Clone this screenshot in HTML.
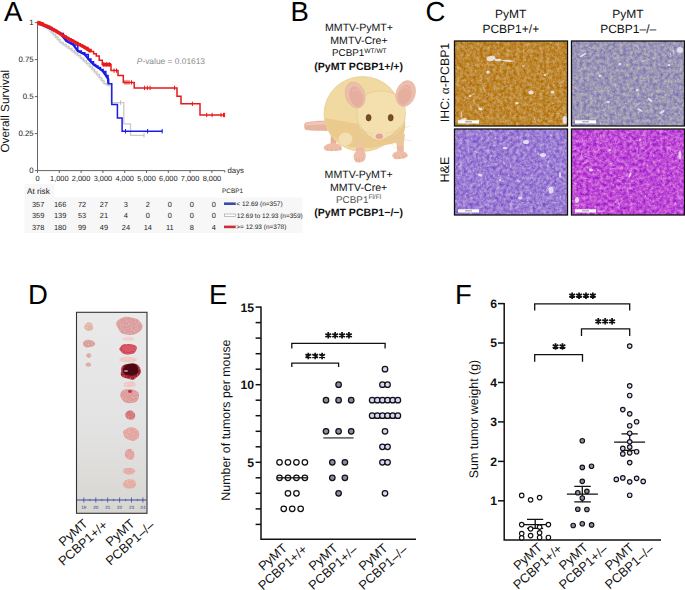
<!DOCTYPE html>
<html><head><meta charset="utf-8"><style>
html,body{margin:0;padding:0;background:#fff;}
body{width:685px;height:590px;overflow:hidden;font-family:"Liberation Sans",sans-serif;}
svg{display:block;text-rendering:geometricPrecision;}
</style></head><body>
<svg width="685" height="590" viewBox="0 0 685 590">
<text x="4" y="20.8" font-size="27.5" font-family="Liberation Sans">A</text>
<g stroke="#555" stroke-width="0.9" fill="none">
<path d="M37.5,22 V170.6 H224.8"/>
<path d="M34.8,170.6 H37.5"/>
<path d="M34.8,133.6 H37.5"/>
<path d="M34.8,96.6 H37.5"/>
<path d="M34.8,59.6 H37.5"/>
<path d="M34.8,22.6 H37.5"/>
<path d="M37.5,170.6 V173"/>
<path d="M59.3,170.6 V173"/>
<path d="M81.1,170.6 V173"/>
<path d="M102.9,170.6 V173"/>
<path d="M124.7,170.6 V173"/>
<path d="M146.5,170.6 V173"/>
<path d="M168.3,170.6 V173"/>
<path d="M190.1,170.6 V173"/>
<path d="M211.9,170.6 V173"/>
<path d="M224.8,170.6 V172.5"/>
</g>
<g font-size="7.8" font-family="Liberation Sans" fill="#222" text-anchor="end">
<text x="33.6" y="173.2">0</text>
<text x="33.6" y="136.2">0.25</text>
<text x="33.6" y="99.2">0.5</text>
<text x="33.6" y="62.2">0.75</text>
<text x="33.6" y="25.2">1</text>
</g>
<g font-size="7.4" font-family="Liberation Sans" fill="#222" text-anchor="middle">
<text x="37.5" y="181.2">0</text>
<text x="59.3" y="181.2">1,000</text>
<text x="81.1" y="181.2">2,000</text>
<text x="102.9" y="181.2">3,000</text>
<text x="124.7" y="181.2">4,000</text>
<text x="146.5" y="181.2">5,000</text>
<text x="168.3" y="181.2">6,000</text>
<text x="190.1" y="181.2">7,000</text>
<text x="211.9" y="181.2">8,000</text>
</g>
<text x="227.5" y="173.3" font-size="7.8" font-family="Liberation Sans" fill="#222">days</text>
<text transform="translate(8.9,111.3) rotate(-90)" text-anchor="middle" font-size="11.8" font-family="Liberation Sans" fill="#111">Overall Survival</text>
<text x="136.8" y="63.9" font-size="8.4" font-family="Liberation Sans" fill="#8a8a8a"><tspan font-style="italic">P</tspan>-value = 0.01613</text>
<path d="M37.5,22.6 48.9,29.1 60.3,42.3 69.0,48.4 77.8,55.4 86.6,63.3 90.0,66.6 97.0,74.5 104.0,83.3 108.4,85.5" fill="none" stroke="#e2e2e2" stroke-width="2.4" stroke-linejoin="round"/>
<path d="M37.50,22.60 39.78,22.60 39.78,23.90 42.06,23.90 42.06,25.20 44.34,25.20 44.34,26.50 46.62,26.50 46.62,27.80 48.90,27.80 48.90,29.10 51.18,29.10 51.18,31.74 53.46,31.74 53.46,34.38 55.74,34.38 55.74,37.02 58.02,37.02 58.02,39.66 60.30,39.66 60.30,42.30 63.20,42.30 63.20,44.33 66.10,44.33 66.10,46.37 69.00,46.37 69.00,48.40 71.93,48.40 71.93,50.73 74.87,50.73 74.87,53.07 77.80,53.07 77.80,55.40 80.73,55.40 80.73,58.03 83.67,58.03 83.67,60.67 86.60,60.67 86.60,63.30 90.00,63.30 90.00,66.60 92.33,66.60 92.33,69.23 94.67,69.23 94.67,71.87 97.00,71.87 97.00,74.50 99.33,74.50 99.33,77.43 101.67,77.43 101.67,80.37 104.00,80.37 104.00,83.30 106.20,83.30 106.20,84.40 108.40,84.40 108.40,85.50 111.20,85.50 111.20,102.60 123.80,102.60 123.80,123.80 130.50,123.80 130.50,135.40 144.20,135.40" fill="none" stroke="#cacaca" stroke-width="1.3"/>
<path d="M37.5,22.6 60.3,33.5 66.4,41.0 73.4,44.9 77.8,51.0 81.4,52.8 84.8,54.5 88.3,58.9 93.5,64.5 97.9,67.5 103.1,71.5 105.8,75.4 108.0,78.9 108.4,83.7" fill="none" stroke="#1c1ce8" stroke-width="2.2" stroke-linejoin="round"/>
<path d="M37.50,22.60 39.78,22.60 39.78,23.69 42.06,23.69 42.06,24.78 44.34,24.78 44.34,25.87 46.62,25.87 46.62,26.96 48.90,26.96 48.90,28.05 51.18,28.05 51.18,29.14 53.46,29.14 53.46,30.23 55.74,30.23 55.74,31.32 58.02,31.32 58.02,32.41 60.30,32.41 60.30,33.50 63.35,33.50 63.35,37.25 66.40,37.25 66.40,41.00 68.73,41.00 68.73,42.30 71.07,42.30 71.07,43.60 73.40,43.60 73.40,44.90 77.80,44.90 77.80,51.00 81.40,51.00 81.40,52.80 84.80,52.80 84.80,54.50 88.30,54.50 88.30,58.90 90.90,58.90 90.90,61.70 93.50,61.70 93.50,64.50 95.70,64.50 95.70,66.00 97.90,66.00 97.90,67.50 100.50,67.50 100.50,69.50 103.10,69.50 103.10,71.50 105.80,71.50 105.80,75.40 108.00,75.40 108.00,78.90 108.40,78.90 108.40,83.70 111.80,83.70 111.80,84.60 111.80,104.50 117.40,104.50 117.40,117.90 122.10,117.90 122.10,131.20 162.40,131.20" fill="none" stroke="#1c1ce8" stroke-width="1.5"/>
<path d="M37.5,22.6 49.8,27.4 63.8,36.1 73.4,41.4 84.8,47.5 91.0,51.5" fill="none" stroke="#ee1c1c" stroke-width="3.3" stroke-linejoin="round"/>
<path d="M102.3,64.6 H111" stroke="#e8191a" stroke-width="3.2"/>
<path d="M37.5,20.5 L44,22.5 L44,26.5 L37.5,25 Z" fill="#ee1c1c"/>
<path d="M37.50,22.60 39.96,22.60 39.96,23.56 42.42,23.56 42.42,24.52 44.88,24.52 44.88,25.48 47.34,25.48 47.34,26.44 49.80,26.44 49.80,27.40 52.13,27.40 52.13,28.85 54.47,28.85 54.47,30.30 56.80,30.30 56.80,31.75 59.13,31.75 59.13,33.20 61.47,33.20 61.47,34.65 63.80,34.65 63.80,36.10 66.20,36.10 66.20,37.42 68.60,37.42 68.60,38.75 71.00,38.75 71.00,40.08 73.40,40.08 73.40,41.40 75.68,41.40 75.68,42.62 77.96,42.62 77.96,43.84 80.24,43.84 80.24,45.06 82.52,45.06 82.52,46.28 84.80,46.28 84.80,47.50 87.90,47.50 87.90,49.50 91.00,49.50 91.00,51.50 93.65,51.50 93.65,53.75 96.30,53.75 96.30,56.00 99.20,56.00 99.20,60.30 102.30,60.30 102.30,64.50 111.00,64.50 111.00,70.60 118.00,70.60 118.00,75.40 123.30,75.40 123.30,82.40 134.20,82.40 134.20,87.90 177.00,87.90 177.00,96.30 181.00,96.30 181.00,103.80 200.00,103.80 200.00,115.00 225.00,115.00" fill="none" stroke="#e8191a" stroke-width="1.5"/>
<path d="M103.5,62.3 V66.7" stroke="#e8191a" stroke-width="1"/><path d="M105.0,62.3 V66.7" stroke="#e8191a" stroke-width="1"/><path d="M106.5,62.3 V66.7" stroke="#e8191a" stroke-width="1"/><path d="M108.0,62.3 V66.7" stroke="#e8191a" stroke-width="1"/><path d="M109.5,62.3 V66.7" stroke="#e8191a" stroke-width="1"/>
<path d="M114.0,68.4 V72.8" stroke="#e8191a" stroke-width="1"/><path d="M116.5,68.4 V72.8" stroke="#e8191a" stroke-width="1"/>
<path d="M125.0,80.2 V84.6" stroke="#e8191a" stroke-width="1"/><path d="M127.0,80.2 V84.6" stroke="#e8191a" stroke-width="1"/><path d="M129.0,80.2 V84.6" stroke="#e8191a" stroke-width="1"/><path d="M131.5,80.2 V84.6" stroke="#e8191a" stroke-width="1"/>
<path d="M144.6,85.7 V90.1" stroke="#e8191a" stroke-width="1"/><path d="M147.4,85.7 V90.1" stroke="#e8191a" stroke-width="1"/><path d="M150.1,85.7 V90.1" stroke="#e8191a" stroke-width="1"/><path d="M174.6,85.7 V90.1" stroke="#e8191a" stroke-width="1"/>
<path d="M192.4,101.6 V106.0" stroke="#e8191a" stroke-width="1"/>
<path d="M206.7,112.8 V117.2" stroke="#e8191a" stroke-width="1"/><path d="M212.1,112.8 V117.2" stroke="#e8191a" stroke-width="1"/><path d="M221.0,112.8 V117.2" stroke="#e8191a" stroke-width="1"/><path d="M223.5,112.8 V117.2" stroke="#e8191a" stroke-width="1"/><path d="M224.6,112.8 V117.2" stroke="#e8191a" stroke-width="1"/>
<path d="M125.5,129.0 V133.4" stroke="#1c1ce8" stroke-width="1"/><path d="M147.6,129.0 V133.4" stroke="#1c1ce8" stroke-width="1"/><path d="M162.2,129.0 V133.4" stroke="#1c1ce8" stroke-width="1"/>
<path d="M120.5,100.4 V104.8" stroke="#bbb" stroke-width="1"/>
<path d="M144.0,133.2 V137.6" stroke="#bbb" stroke-width="1"/>
<rect x="24.5" y="184" width="30" height="14" fill="#f7f7f7"/><rect x="24.5" y="197.5" width="278" height="35.5" fill="#f7f7f7"/>
<text x="27" y="194" font-size="8.2" font-family="Liberation Sans" fill="#222">At risk</text>
<text x="222" y="193" font-size="6.4" font-family="Liberation Sans" fill="#222">PCBP1</text>
<g font-size="7.4" font-family="Liberation Sans" fill="#222" text-anchor="middle">
<text x="38.1" y="206.7">357</text>
<text x="60.1" y="206.7">166</text>
<text x="82.0" y="206.7">72</text>
<text x="103.9" y="206.7">27</text>
<text x="125.9" y="206.7">3</text>
<text x="147.8" y="206.7">2</text>
<text x="169.8" y="206.7">0</text>
<text x="191.8" y="206.7">0</text>
<text x="213.7" y="206.7">0</text>
<text x="38.1" y="218.3">359</text>
<text x="60.1" y="218.3">139</text>
<text x="82.0" y="218.3">53</text>
<text x="103.9" y="218.3">21</text>
<text x="125.9" y="218.3">4</text>
<text x="147.8" y="218.3">0</text>
<text x="169.8" y="218.3">0</text>
<text x="191.8" y="218.3">0</text>
<text x="213.7" y="218.3">0</text>
<text x="38.1" y="229.9">378</text>
<text x="60.1" y="229.9">180</text>
<text x="82.0" y="229.9">99</text>
<text x="103.9" y="229.9">49</text>
<text x="125.9" y="229.9">24</text>
<text x="147.8" y="229.9">14</text>
<text x="169.8" y="229.9">11</text>
<text x="191.8" y="229.9">8</text>
<text x="213.7" y="229.9">4</text>
</g>
<rect x="224" y="202.4" width="11.7" height="2.6" fill="#3a4aa8"/>
<rect x="224.3" y="214" width="11.2" height="2.3" fill="#fff" stroke="#999" stroke-width="0.6"/>
<rect x="224" y="225.6" width="11.7" height="2.6" fill="#c8303a"/>
<g font-size="6.5" font-family="Liberation Sans" fill="#222">
<text x="236.3" y="206">&lt; 12.69 (n=357)</text>
<text x="236.8" y="217.6">12.69 to 12.93 (n=359)</text>
<text x="236.3" y="229.2">&gt;= 12.93 (n=378)</text>
</g>
<text x="290.5" y="20.8" font-size="27.5" font-family="Liberation Sans">B</text>
<g font-size="10.6" font-family="Liberation Sans" fill="#111" text-anchor="middle">
<text x="359" y="31.4">MMTV-PyMT+</text>
<text x="359" y="44">MMTV-Cre+</text>
<text x="359.3" y="56.2" font-size="9.9">PCBP1<tspan font-size="6.6" dy="-3.6">WT/WT</tspan></text>
<text x="358.6" y="69.8" font-weight="bold">(PyMT PCBP1+/+)</text>
<text x="358.6" y="178.3">MMTV-PyMT+</text>
<text x="358.6" y="191">MMTV-Cre+</text>
<text x="358.6" y="203" font-size="9.9" fill="#555">PCBP1<tspan font-size="6.6" dy="-3.6">Fl/Fl</tspan></text>
<text x="358.6" y="216.3" font-weight="bold">(PyMT PCBP1−/−)</text>
</g>

<g>
<path d="M305.5,122.5 C312,121 319,120.6 327,120.8 L327.5,131 C319,130.8 312,130.6 305.8,130 C303.8,129.4 303.6,123.2 305.5,122.5 Z" fill="#e8b4a2"/>
<path d="M306,123.4 C312,122.2 319,121.8 326,122 L326,124.6 C319,124.4 312,124.8 306,125.6 Z" fill="#f0c8b8"/>
<path d="M331,132 L330.5,144 L336,145 L337,133 Z" fill="#e8b09c"/>
<path d="M324,146.5 C326,143.5 332,142.5 337,143.6 C341,144.6 342.5,147.5 341.5,150 C338,151.3 332,151.3 327,150.8 C324,150 323,148 324,146.5 Z" fill="#eebda8"/>
<path d="M328,148 L327,151 M332,148.5 L331.5,151.2 M336,148.5 L336.2,151 M339.5,147.6 L340.5,150" stroke="#d89a88" stroke-width="0.5" fill="none"/>
<ellipse cx="362.5" cy="114" rx="38.5" ry="37.5" fill="#f1d9a2" stroke="#e3c48c" stroke-width="0.6"/>
<path d="M325,118 C326,132 336,142 350,147 L372,148 L400,142 C404,136 406,128 405,120 L380,128 Z" fill="#ebca8e"/>
<ellipse cx="345.5" cy="139" rx="7" ry="6.5" fill="#f3dfb0"/>
<path d="M355,140 C356,145 356,149 356,153 L364,153 C364,148 364.5,144 365,140 Z" fill="#ebc79a"/><path d="M356,148 L356,153 L364,153 L364.2,148 Z" fill="#eab8a4"/>
<path d="M395,136 C396,142 397,147 397.5,152 L403.5,152 C403.5,146 404,141 405,134 Z" fill="#ebc79a"/><path d="M397,146 L397.5,152 L403.5,152 L403.6,146 Z" fill="#eab8a4"/>
<path d="M353.6,156 C354,151.5 358,149.8 362,150.3 C365.5,151 366.2,154.5 365.4,158.5 C364,162 360,163 357,162.4 C354.5,161.6 353.4,159 353.6,156 Z" fill="#eebda8"/>
<path d="M356.5,158 L356.3,161.5 M359.5,158.5 L359.5,162.2 M362.5,158 L363,161.5" stroke="#d89a88" stroke-width="0.5" fill="none"/>
<path d="M392.3,155 C393.5,151.8 398,150.8 402,151.2 C406,151.8 408.3,154 407.6,156.6 C405,158.6 400,159.4 396,159.2 C393.4,158.6 392,157 392.3,155 Z" fill="#eebda8"/>
<path d="M396,155.5 L394.8,158.5 M399.5,156 L399.2,159 M403,156 L403.8,158.8" stroke="#d89a88" stroke-width="0.5" fill="none"/>
<path d="M357,114 C356,100 366,91 381,91 C396,91 406,100 405.5,114 C405.2,126 398,135 388,139 C383,141 376,141 371,139 C362,135 357.5,126 357,114 Z" fill="#f4dfae" stroke="#e2c48e" stroke-width="0.6"/>
<path d="M360,124 C364,132 371,139 379,140 C387,139 395,133 402,124 C398,133 390,140.5 379,141 C369,140.5 362,133 360,124 Z" fill="#e8c890"/>
<ellipse cx="355.2" cy="95" rx="9.6" ry="13.4" transform="rotate(-18,355.2,95)" fill="#ecbfac" stroke="#dcae96" stroke-width="0.5"/>
<ellipse cx="356.2" cy="96.5" rx="6.8" ry="10.5" transform="rotate(-18,356.2,96.5)" fill="#e6ae9e"/>
<path d="M352,92 C355,88 361,89 362,94" stroke="#eec2b2" stroke-width="0.8" fill="none"/>
<ellipse cx="405.7" cy="93.5" rx="9.5" ry="13.2" transform="rotate(18,405.7,93.5)" fill="#ecbfac" stroke="#dcae96" stroke-width="0.5"/>
<ellipse cx="404.8" cy="95" rx="6.6" ry="10.2" transform="rotate(18,404.8,95)" fill="#e6ae9e"/>
<path d="M401,90 C404,86 410,87 411,92" stroke="#eec2b2" stroke-width="0.8" fill="none"/>
<ellipse cx="368.6" cy="117.7" rx="2.5" ry="3.3" fill="#7a4c26" stroke="#4a2c14" stroke-width="0.5"/>
<ellipse cx="390.7" cy="117.7" rx="2.5" ry="3.3" fill="#7a4c26" stroke="#4a2c14" stroke-width="0.5"/>
<ellipse cx="379.3" cy="136.3" rx="3.4" ry="2.5" fill="#e8a0a0" stroke="#d08888" stroke-width="0.3"/>
<g stroke="#ddc49a" stroke-width="0.35" fill="none">
<path d="M373,134 L350,127 M373,136 L352,139 M386,134 L410,126 M386,136 L412,141 M385,138 L398,150"/>
</g>
</g>
<text x="425.4" y="21" font-size="27.5" font-family="Liberation Sans">C</text>
<g font-size="12" font-family="Liberation Sans" fill="#111" text-anchor="middle">
<text x="510.6" y="18">PyMT</text>
<text x="510.8" y="32.6">PCBP1+/+</text>
<text x="627.9" y="18">PyMT</text>
<text x="628.2" y="32.6">PCBP1–/–</text>
<text transform="translate(449.4,82.5) rotate(-90)" font-size="12.3">IHC: <tspan font-family="Liberation Serif" font-size="13.2">α</tspan>-PCBP1</text>
<text transform="translate(449.3,169.6) rotate(-90)" font-size="12.6">H&amp;E</text>
</g>
<filter id="f1" x="455" y="41.5" width="112" height="84" filterUnits="userSpaceOnUse" color-interpolation-filters="sRGB">
<feTurbulence type="fractalNoise" baseFrequency="0.3" numOctaves="3" seed="3"/>
<feColorMatrix type="matrix" values="0.195 0 0 0 0.6725 0.39 0 0 0 0.35500000000000004 0.7150000000000001 0 0 0 -0.15750000000000003 0 0 0 0 1"/>
</filter><rect x="455" y="41.5" width="112" height="84" fill="#888" filter="url(#f1)"/><filter id="f1g" x="455" y="41.5" width="112" height="84" filterUnits="userSpaceOnUse" color-interpolation-filters="sRGB">
<feTurbulence type="turbulence" baseFrequency="0.9" numOctaves="1" seed="4"/>
<feColorMatrix type="matrix" values="0 0 0 0 0.35 0 0 0 0 0.2 0 0 0 0 0.0 0.35 0 0 0 0"/>
</filter><rect x="455" y="41.5" width="112" height="84" fill="#888" filter="url(#f1g)"/><filter id="f1w" x="455" y="41.5" width="112" height="84" filterUnits="userSpaceOnUse" color-interpolation-filters="sRGB">
<feTurbulence type="fractalNoise" baseFrequency="0.4" numOctaves="2" seed="10"/>
<feColorMatrix type="matrix" values="0 0 0 0 0.85 0 0 0 0 0.82 0 0 0 0 0.8 2.6 0 0 0 -1.7"/>
</filter><rect x="455" y="41.5" width="112" height="84" fill="#888" filter="url(#f1w)"/><ellipse cx="491" cy="58.5" rx="4.5" ry="2.6" transform="rotate(-10,491,58.5)" fill="#eeeaf0" opacity="0.9"/><ellipse cx="498" cy="60" rx="3.5" ry="1.2" transform="rotate(0,498,60)" fill="#eeeaf0" opacity="0.9"/><ellipse cx="508" cy="60.8" rx="6" ry="0.9" transform="rotate(3,508,60.8)" fill="#eeeaf0" opacity="0.9"/><ellipse cx="488" cy="72" rx="1.8" ry="1.6" transform="rotate(0,488,72)" fill="#eeeaf0" opacity="0.9"/><ellipse cx="531" cy="92.4" rx="2.6" ry="2" transform="rotate(0,531,92.4)" fill="#eeeaf0" opacity="0.9"/><ellipse cx="552.5" cy="92" rx="2" ry="1.6" transform="rotate(0,552.5,92)" fill="#eeeaf0" opacity="0.9"/><ellipse cx="480.4" cy="109" rx="2.4" ry="1.3" transform="rotate(20,480.4,109)" fill="#eeeaf0" opacity="0.9"/><ellipse cx="517" cy="103" rx="1.8" ry="1.2" transform="rotate(0,517,103)" fill="#eeeaf0" opacity="0.9"/><ellipse cx="545" cy="75" rx="1.2" ry="1" transform="rotate(0,545,75)" fill="#eeeaf0" opacity="0.9"/><ellipse cx="463" cy="120" rx="4" ry="1.5" transform="rotate(-20,463,120)" fill="#eeeaf0" opacity="0.9"/><ellipse cx="565" cy="120" rx="2.5" ry="4" transform="rotate(0,565,120)" fill="#eeeaf0" opacity="0.9"/><ellipse cx="523" cy="66" rx="1" ry="0.8" transform="rotate(0,523,66)" fill="#eeeaf0" opacity="0.9"/><ellipse cx="470" cy="96" rx="1.2" ry="0.9" transform="rotate(0,470,96)" fill="#eeeaf0" opacity="0.9"/><path d="M483.2,86.9L485.2,91.6" stroke="#f0e6e8" stroke-width="1.0" opacity="0.55" stroke-linecap="round"/><path d="M464.9,45.5L462.1,47.1" stroke="#f0e6e8" stroke-width="0.8" opacity="0.55" stroke-linecap="round"/><path d="M563.5,81.2L559.7,83.3" stroke="#f0e6e8" stroke-width="1.0" opacity="0.55" stroke-linecap="round"/><path d="M474.0,94.0L469.7,95.9" stroke="#f0e6e8" stroke-width="1.1" opacity="0.55" stroke-linecap="round"/><path d="M529.2,49.5L525.6,52.9" stroke="#f0e6e8" stroke-width="0.8" opacity="0.55" stroke-linecap="round"/><path d="M461.3,112.0L461.8,117.6" stroke="#f0e6e8" stroke-width="1.2" opacity="0.55" stroke-linecap="round"/><path d="M533.7,116.3L535.6,122.0" stroke="#f0e6e8" stroke-width="0.9" opacity="0.55" stroke-linecap="round"/><path d="M557.2,113.1L559.7,113.9" stroke="#f0e6e8" stroke-width="0.8" opacity="0.55" stroke-linecap="round"/><rect x="454.5" y="41.0" width="113" height="85" fill="none" stroke="#111" stroke-width="1.3"/><rect x="458" y="120.3" width="21" height="3.2" fill="#fff"/><rect x="465" y="121.3" width="7" height="1.1" fill="#999"/><filter id="f2" x="572" y="41.5" width="112" height="84" filterUnits="userSpaceOnUse" color-interpolation-filters="sRGB">
<feTurbulence type="fractalNoise" baseFrequency="0.3" numOctaves="3" seed="5"/>
<feColorMatrix type="matrix" values="0.45999999999999996 0 0 0 0.39 0.414 0 0 0 0.393 0.0 0 0 0 0.72 0 0 0 0 1"/>
</filter><rect x="572" y="41.5" width="112" height="84" fill="#888" filter="url(#f2)"/><filter id="f2g" x="572" y="41.5" width="112" height="84" filterUnits="userSpaceOnUse" color-interpolation-filters="sRGB">
<feTurbulence type="turbulence" baseFrequency="0.9" numOctaves="1" seed="6"/>
<feColorMatrix type="matrix" values="0 0 0 0 0.3 0 0 0 0 0.25 0 0 0 0 0.5 0.3 0 0 0 0"/>
</filter><rect x="572" y="41.5" width="112" height="84" fill="#888" filter="url(#f2g)"/><filter id="f2w" x="572" y="41.5" width="112" height="84" filterUnits="userSpaceOnUse" color-interpolation-filters="sRGB">
<feTurbulence type="fractalNoise" baseFrequency="0.4" numOctaves="2" seed="12"/>
<feColorMatrix type="matrix" values="0 0 0 0 0.88 0 0 0 0 0.86 0 0 0 0 0.88 2.6 0 0 0 -1.7"/>
</filter><rect x="572" y="41.5" width="112" height="84" fill="#888" filter="url(#f2w)"/><ellipse cx="583" cy="55" rx="3.5" ry="1" transform="rotate(-30,583,55)" fill="#e6e8f4" opacity="0.9"/><ellipse cx="600" cy="76" rx="1.5" ry="1.2" transform="rotate(0,600,76)" fill="#e6e8f4" opacity="0.9"/><ellipse cx="620" cy="64" rx="1.5" ry="1.2" transform="rotate(0,620,64)" fill="#e6e8f4" opacity="0.9"/><ellipse cx="637" cy="90" rx="1.5" ry="1" transform="rotate(0,637,90)" fill="#e6e8f4" opacity="0.9"/><ellipse cx="650" cy="100" rx="3" ry="1" transform="rotate(40,650,100)" fill="#e6e8f4" opacity="0.9"/><ellipse cx="669" cy="65" rx="1.5" ry="1" transform="rotate(0,669,65)" fill="#e6e8f4" opacity="0.9"/><ellipse cx="680" cy="50" rx="3" ry="3" transform="rotate(0,680,50)" fill="#e6e8f4" opacity="0.9"/><ellipse cx="662" cy="112" rx="3" ry="1.2" transform="rotate(-30,662,112)" fill="#e6e8f4" opacity="0.9"/><ellipse cx="608" cy="102" rx="2" ry="1" transform="rotate(0,608,102)" fill="#e6e8f4" opacity="0.9"/><ellipse cx="640" cy="110" rx="3" ry="1" transform="rotate(30,640,110)" fill="#e6e8f4" opacity="0.9"/><path d="M641.0,102.4L635.7,106.4" stroke="#dde0f0" stroke-width="1.1" opacity="0.55" stroke-linecap="round"/><path d="M672.8,46.8L673.5,53.4" stroke="#dde0f0" stroke-width="1.1" opacity="0.55" stroke-linecap="round"/><path d="M670.5,53.3L670.8,56.5" stroke="#dde0f0" stroke-width="1.0" opacity="0.55" stroke-linecap="round"/><path d="M635.8,45.5L638.5,47.7" stroke="#dde0f0" stroke-width="1.2" opacity="0.55" stroke-linecap="round"/><path d="M656.2,56.9L654.0,58.6" stroke="#dde0f0" stroke-width="1.0" opacity="0.55" stroke-linecap="round"/><path d="M588.4,44.6L585.6,45.8" stroke="#dde0f0" stroke-width="0.8" opacity="0.55" stroke-linecap="round"/><path d="M679.1,112.5L683.0,117.9" stroke="#dde0f0" stroke-width="1.0" opacity="0.55" stroke-linecap="round"/><path d="M646.9,60.5L641.5,61.5" stroke="#dde0f0" stroke-width="1.3" opacity="0.55" stroke-linecap="round"/><path d="M669.7,67.8L670.9,70.4" stroke="#dde0f0" stroke-width="0.7" opacity="0.55" stroke-linecap="round"/><path d="M581.9,68.0L581.3,69.9" stroke="#dde0f0" stroke-width="1.1" opacity="0.55" stroke-linecap="round"/><rect x="571.5" y="41.0" width="113" height="85" fill="none" stroke="#111" stroke-width="1.3"/><rect x="575" y="120.3" width="21" height="3.2" fill="#fff"/><rect x="582" y="121.3" width="7" height="1.1" fill="#999"/><filter id="f3" x="455" y="129.5" width="112" height="85" filterUnits="userSpaceOnUse" color-interpolation-filters="sRGB">
<feTurbulence type="fractalNoise" baseFrequency="0.3" numOctaves="3" seed="9"/>
<feColorMatrix type="matrix" values="0.42 0 0 0 0.41000000000000003 0.5599999999999999 0 0 0 0.22000000000000003 0.13999999999999999 0 0 0 0.77 0 0 0 0 1"/>
</filter><rect x="455" y="129.5" width="112" height="85" fill="#888" filter="url(#f3)"/><filter id="f3g" x="455" y="129.5" width="112" height="85" filterUnits="userSpaceOnUse" color-interpolation-filters="sRGB">
<feTurbulence type="turbulence" baseFrequency="0.9" numOctaves="1" seed="10"/>
<feColorMatrix type="matrix" values="0 0 0 0 0.3 0 0 0 0 0.15 0 0 0 0 0.6 0.3 0 0 0 0"/>
</filter><rect x="455" y="129.5" width="112" height="85" fill="#888" filter="url(#f3g)"/><filter id="f3w" x="455" y="129.5" width="112" height="85" filterUnits="userSpaceOnUse" color-interpolation-filters="sRGB">
<feTurbulence type="fractalNoise" baseFrequency="0.4" numOctaves="2" seed="16"/>
<feColorMatrix type="matrix" values="0 0 0 0 0.95 0 0 0 0 0.9 0 0 0 0 0.98 2.6 0 0 0 -1.7"/>
</filter><rect x="455" y="129.5" width="112" height="85" fill="#888" filter="url(#f3w)"/><ellipse cx="526" cy="142" rx="3" ry="2" transform="rotate(0,526,142)" fill="#ece4f6" opacity="0.9"/><ellipse cx="520" cy="198" rx="2" ry="1.4" transform="rotate(0,520,198)" fill="#ece4f6" opacity="0.9"/><ellipse cx="551" cy="190" rx="2.5" ry="3.5" transform="rotate(0,551,190)" fill="#ece4f6" opacity="0.9"/><ellipse cx="500" cy="180" rx="1.2" ry="1" transform="rotate(0,500,180)" fill="#ece4f6" opacity="0.9"/><ellipse cx="480" cy="175" rx="2.5" ry="1.2" transform="rotate(20,480,175)" fill="#ece4f6" opacity="0.9"/><ellipse cx="543" cy="155" rx="3" ry="2" transform="rotate(0,543,155)" fill="#ece4f6" opacity="0.9"/><ellipse cx="505" cy="148" rx="2.5" ry="1" transform="rotate(0,505,148)" fill="#ece4f6" opacity="0.9"/><ellipse cx="560" cy="175" rx="1" ry="3" transform="rotate(0,560,175)" fill="#ece4f6" opacity="0.9"/><path d="M507.1,162.0L512.8,164.7" stroke="#e8d0f0" stroke-width="0.6" opacity="0.55" stroke-linecap="round"/><path d="M511.3,203.5L515.9,204.7" stroke="#e8d0f0" stroke-width="1.0" opacity="0.55" stroke-linecap="round"/><path d="M462.3,162.4L459.8,165.9" stroke="#e8d0f0" stroke-width="1.1" opacity="0.55" stroke-linecap="round"/><path d="M474.7,151.3L478.9,152.9" stroke="#e8d0f0" stroke-width="1.2" opacity="0.55" stroke-linecap="round"/><path d="M520.6,193.7L522.6,199.0" stroke="#e8d0f0" stroke-width="0.7" opacity="0.55" stroke-linecap="round"/><path d="M488.9,185.8L486.2,188.9" stroke="#e8d0f0" stroke-width="0.7" opacity="0.55" stroke-linecap="round"/><path d="M486.3,149.1L490.1,153.8" stroke="#e8d0f0" stroke-width="0.7" opacity="0.55" stroke-linecap="round"/><path d="M552.0,202.0L555.8,202.6" stroke="#e8d0f0" stroke-width="0.9" opacity="0.55" stroke-linecap="round"/><path d="M460.5,166.1L458.0,166.8" stroke="#e8d0f0" stroke-width="1.0" opacity="0.55" stroke-linecap="round"/><path d="M470.9,178.2L468.0,179.2" stroke="#e8d0f0" stroke-width="0.6" opacity="0.55" stroke-linecap="round"/><path d="M466.9,175.1L469.3,175.3" stroke="#e8d0f0" stroke-width="0.9" opacity="0.55" stroke-linecap="round"/><path d="M555.6,165.7L557.3,170.6" stroke="#e8d0f0" stroke-width="0.7" opacity="0.55" stroke-linecap="round"/><path d="M519.5,146.1L517.2,152.5" stroke="#e8d0f0" stroke-width="0.6" opacity="0.55" stroke-linecap="round"/><path d="M516.8,180.4L519.8,181.9" stroke="#e8d0f0" stroke-width="1.3" opacity="0.55" stroke-linecap="round"/><rect x="454.5" y="129.0" width="113" height="86" fill="none" stroke="#111" stroke-width="1.3"/><rect x="458" y="209.3" width="21" height="3.2" fill="#fff"/><rect x="465" y="210.3" width="7" height="1.1" fill="#999"/><filter id="f4" x="572" y="129.5" width="112" height="85" filterUnits="userSpaceOnUse" color-interpolation-filters="sRGB">
<feTurbulence type="fractalNoise" baseFrequency="0.3" numOctaves="3" seed="11"/>
<feColorMatrix type="matrix" values="0.42 0 0 0 0.55 0.7 0 0 0 -0.04999999999999999 0.13999999999999999 0 0 0 0.78 0 0 0 0 1"/>
</filter><rect x="572" y="129.5" width="112" height="85" fill="#888" filter="url(#f4)"/><filter id="f4g" x="572" y="129.5" width="112" height="85" filterUnits="userSpaceOnUse" color-interpolation-filters="sRGB">
<feTurbulence type="turbulence" baseFrequency="0.9" numOctaves="1" seed="12"/>
<feColorMatrix type="matrix" values="0 0 0 0 0.4 0 0 0 0 0.1 0 0 0 0 0.6 0.3 0 0 0 0"/>
</filter><rect x="572" y="129.5" width="112" height="85" fill="#888" filter="url(#f4g)"/><filter id="f4w" x="572" y="129.5" width="112" height="85" filterUnits="userSpaceOnUse" color-interpolation-filters="sRGB">
<feTurbulence type="fractalNoise" baseFrequency="0.4" numOctaves="2" seed="18"/>
<feColorMatrix type="matrix" values="0 0 0 0 0.95 0 0 0 0 0.85 0 0 0 0 0.98 2.6 0 0 0 -1.7"/>
</filter><rect x="572" y="129.5" width="112" height="85" fill="#888" filter="url(#f4w)"/><ellipse cx="591" cy="170" rx="2" ry="1.5" transform="rotate(0,591,170)" fill="#f4dcf4" opacity="0.9"/><ellipse cx="610" cy="150" rx="1.5" ry="1" transform="rotate(0,610,150)" fill="#f4dcf4" opacity="0.9"/><ellipse cx="640" cy="140" rx="1" ry="1" transform="rotate(0,640,140)" fill="#f4dcf4" opacity="0.9"/><ellipse cx="680" cy="155" rx="1.5" ry="4" transform="rotate(0,680,155)" fill="#f4dcf4" opacity="0.9"/><ellipse cx="577" cy="200" rx="2" ry="3" transform="rotate(0,577,200)" fill="#f4dcf4" opacity="0.9"/><ellipse cx="630" cy="175" rx="1" ry="3" transform="rotate(20,630,175)" fill="#f4dcf4" opacity="0.9"/><path d="M623.0,176.7L618.7,177.7" stroke="#f0c8f0" stroke-width="1.0" opacity="0.55" stroke-linecap="round"/><path d="M637.3,147.1L637.1,152.2" stroke="#f0c8f0" stroke-width="1.2" opacity="0.55" stroke-linecap="round"/><path d="M585.0,156.5L590.8,158.2" stroke="#f0c8f0" stroke-width="1.1" opacity="0.55" stroke-linecap="round"/><path d="M579.4,210.1L574.2,210.7" stroke="#f0c8f0" stroke-width="1.0" opacity="0.55" stroke-linecap="round"/><path d="M591.7,133.7L591.5,136.0" stroke="#f0c8f0" stroke-width="0.7" opacity="0.55" stroke-linecap="round"/><path d="M600.6,134.9L601.1,139.1" stroke="#f0c8f0" stroke-width="1.2" opacity="0.55" stroke-linecap="round"/><path d="M630.0,183.1L630.0,188.4" stroke="#f0c8f0" stroke-width="0.9" opacity="0.55" stroke-linecap="round"/><path d="M604.5,211.3L598.3,211.4" stroke="#f0c8f0" stroke-width="1.1" opacity="0.55" stroke-linecap="round"/><path d="M608.4,150.6L609.9,152.5" stroke="#f0c8f0" stroke-width="1.1" opacity="0.55" stroke-linecap="round"/><path d="M617.4,199.4L619.8,205.7" stroke="#f0c8f0" stroke-width="1.2" opacity="0.55" stroke-linecap="round"/><path d="M575.1,149.1L573.0,150.3" stroke="#f0c8f0" stroke-width="1.3" opacity="0.55" stroke-linecap="round"/><path d="M617.1,138.3L614.8,143.7" stroke="#f0c8f0" stroke-width="0.8" opacity="0.55" stroke-linecap="round"/><path d="M584.2,158.8L578.5,159.4" stroke="#f0c8f0" stroke-width="0.7" opacity="0.55" stroke-linecap="round"/><path d="M601.1,140.5L607.0,141.6" stroke="#f0c8f0" stroke-width="0.7" opacity="0.55" stroke-linecap="round"/><path d="M634.3,167.8L639.0,171.0" stroke="#f0c8f0" stroke-width="0.7" opacity="0.55" stroke-linecap="round"/><path d="M643.2,141.7L644.0,144.7" stroke="#f0c8f0" stroke-width="0.8" opacity="0.55" stroke-linecap="round"/><path d="M677.9,196.0L681.6,201.2" stroke="#f0c8f0" stroke-width="0.7" opacity="0.55" stroke-linecap="round"/><path d="M616.8,200.0L615.7,202.3" stroke="#f0c8f0" stroke-width="1.3" opacity="0.55" stroke-linecap="round"/><path d="M597.6,152.9L594.8,155.3" stroke="#f0c8f0" stroke-width="0.8" opacity="0.55" stroke-linecap="round"/><path d="M582.8,139.6L582.0,142.7" stroke="#f0c8f0" stroke-width="1.0" opacity="0.55" stroke-linecap="round"/><path d="M614.4,168.3L610.0,168.9" stroke="#f0c8f0" stroke-width="1.0" opacity="0.55" stroke-linecap="round"/><path d="M666.9,146.9L672.6,150.0" stroke="#f0c8f0" stroke-width="1.2" opacity="0.55" stroke-linecap="round"/><path d="M601.4,147.5L596.9,152.4" stroke="#f0c8f0" stroke-width="0.7" opacity="0.55" stroke-linecap="round"/><path d="M675.7,202.2L674.4,206.1" stroke="#f0c8f0" stroke-width="0.7" opacity="0.55" stroke-linecap="round"/><path d="M579.1,208.6L583.1,212.3" stroke="#f0c8f0" stroke-width="0.8" opacity="0.55" stroke-linecap="round"/><path d="M662.3,179.6L664.1,181.9" stroke="#f0c8f0" stroke-width="1.1" opacity="0.55" stroke-linecap="round"/><path d="M582.3,150.5L581.1,156.7" stroke="#f0c8f0" stroke-width="1.0" opacity="0.55" stroke-linecap="round"/><path d="M604.7,205.0L606.4,206.2" stroke="#f0c8f0" stroke-width="0.8" opacity="0.55" stroke-linecap="round"/><path d="M622.2,137.3L625.5,139.3" stroke="#f0c8f0" stroke-width="1.0" opacity="0.55" stroke-linecap="round"/><path d="M588.9,161.1L582.4,163.4" stroke="#f0c8f0" stroke-width="1.1" opacity="0.55" stroke-linecap="round"/><rect x="571.5" y="129.0" width="113" height="86" fill="none" stroke="#111" stroke-width="1.3"/><rect x="575" y="209.3" width="21" height="3.2" fill="#fff"/><rect x="582" y="210.3" width="7" height="1.1" fill="#999"/>
<text x="28.1" y="303.8" font-size="27.5" font-family="Liberation Sans">D</text>
<defs><linearGradient id="pg" x1="0" y1="0" x2="0" y2="1">
<stop offset="0" stop-color="#eaeaea"/><stop offset="0.6" stop-color="#e2e2e2"/><stop offset="1" stop-color="#d8d6d0"/></linearGradient></defs>
<rect x="76.5" y="312.3" width="70.5" height="201" fill="url(#pg)" stroke="#333" stroke-width="1.1"/><filter id="tt" x="-20%" y="-20%" width="140%" height="140%" color-interpolation-filters="sRGB">
<feTurbulence type="fractalNoise" baseFrequency="0.7" numOctaves="2" seed="4" result="n"/>
<feColorMatrix in="n" type="matrix" values="0 0 0 0 1 0 0 0 0 0.92 0 0 0 0 0.92 1.0 0 0 0 -0.45" result="w"/>
<feComposite in="w" in2="SourceGraphic" operator="in" result="wm"/>
<feMerge><feMergeNode in="SourceGraphic"/><feMergeNode in="wm"/></feMerge>
</filter><path d="M92.72,325.86Q93.00,326.70 93.14,327.73Q93.29,328.77 92.57,329.56Q91.85,330.36 90.81,330.55Q89.76,330.74 88.77,330.86Q87.78,330.98 86.87,330.54Q85.97,330.10 85.24,329.39Q84.50,328.68 84.19,327.69Q83.88,326.70 84.47,325.84Q85.06,324.98 85.66,324.31Q86.26,323.65 86.98,322.86Q87.69,322.06 88.75,322.27Q89.81,322.48 90.83,322.76Q91.85,323.04 92.15,324.03Q92.45,325.02 92.72,325.86Z" fill="#e2b2a6" filter="url(#tt)"/><path d="M94.76,342.78Q95.46,343.60 95.12,344.54Q94.79,345.47 93.46,345.90Q92.14,346.32 91.07,346.67Q90.00,347.02 88.68,347.37Q87.36,347.71 86.10,347.27Q84.85,346.82 84.01,346.09Q83.17,345.36 83.13,344.48Q83.08,343.60 83.17,342.73Q83.26,341.86 84.11,341.17Q84.96,340.47 86.20,340.10Q87.44,339.72 88.73,339.92Q90.03,340.11 91.25,340.36Q92.48,340.60 93.27,341.28Q94.07,341.95 94.76,342.78Z" fill="#d99c98" filter="url(#tt)"/><path d="M91.27,354.98Q91.33,355.50 91.29,356.03Q91.26,356.55 90.84,356.94Q90.43,357.32 89.92,357.61Q89.42,357.90 88.80,357.90Q88.18,357.91 87.74,357.55Q87.29,357.18 86.97,356.80Q86.65,356.42 86.27,355.96Q85.88,355.50 86.19,355.01Q86.51,354.52 86.87,354.13Q87.22,353.74 87.68,353.31Q88.13,352.88 88.76,353.03Q89.40,353.18 90.01,353.32Q90.62,353.47 90.92,353.97Q91.22,354.46 91.27,354.98Z" fill="#dcaaa0" filter="url(#tt)"/><path d="M90.95,364.25Q91.12,364.70 90.95,365.15Q90.78,365.60 90.49,366.03Q90.20,366.45 89.64,366.61Q89.07,366.76 88.51,366.73Q87.94,366.71 87.37,366.58Q86.80,366.46 86.26,366.13Q85.72,365.80 85.61,365.25Q85.50,364.70 85.66,364.17Q85.82,363.64 86.34,363.33Q86.87,363.02 87.37,362.73Q87.87,362.44 88.48,362.51Q89.09,362.58 89.60,362.81Q90.11,363.04 90.45,363.42Q90.78,363.80 90.95,364.25Z" fill="#dcaaa0" filter="url(#tt)"/><path d="M141.68,323.81Q142.89,325.60 142.39,327.62Q141.88,329.64 140.00,331.30Q138.11,332.97 135.33,334.03Q132.55,335.09 129.37,334.88Q126.19,334.67 123.21,333.93Q120.24,333.18 119.49,331.08Q118.75,328.99 117.48,327.29Q116.21,325.60 116.18,323.49Q116.14,321.38 118.46,319.92Q120.78,318.47 123.43,317.33Q126.08,316.20 129.02,317.01Q131.96,317.82 134.72,318.29Q137.47,318.77 138.97,320.39Q140.47,322.01 141.68,323.81Z" fill="#da9c9c" filter="url(#tt)"/><path d="M134.36,338.53Q134.92,339.00 134.62,339.51Q134.32,340.03 133.28,340.37Q132.23,340.71 130.99,340.87Q129.76,341.02 128.54,340.95Q127.32,340.89 125.97,340.84Q124.61,340.79 123.87,340.37Q123.13,339.95 122.63,339.47Q122.13,339.00 122.69,338.54Q123.26,338.07 123.89,337.62Q124.52,337.17 125.88,337.07Q127.24,336.97 128.58,336.84Q129.93,336.70 131.19,336.94Q132.45,337.19 133.12,337.63Q133.79,338.07 134.36,338.53Z" fill="#f0d2cc" filter="url(#tt)"/><path d="M136.88,347.64Q136.81,349.00 136.20,350.15Q135.59,351.31 134.77,352.50Q133.94,353.70 131.89,353.89Q129.84,354.07 127.89,354.39Q125.94,354.70 124.19,354.05Q122.45,353.39 121.52,352.32Q120.59,351.25 119.69,350.12Q118.78,349.00 119.71,347.88Q120.63,346.76 121.49,345.65Q122.36,344.54 124.26,344.23Q126.16,343.93 128.01,343.92Q129.85,343.90 131.74,344.22Q133.63,344.55 135.29,345.42Q136.94,346.29 136.88,347.64Z" fill="#cc4252" filter="url(#tt)"/><path d="M136.58,358.80Q136.41,359.50 136.71,360.22Q137.01,360.95 135.06,361.29Q133.11,361.64 131.60,362.10Q130.10,362.57 128.15,362.35Q126.20,362.13 124.46,361.92Q122.73,361.70 120.82,361.33Q118.92,360.96 119.27,360.23Q119.63,359.50 119.62,358.83Q119.62,358.15 121.03,357.67Q122.44,357.18 124.23,356.89Q126.02,356.61 128.01,356.59Q130.00,356.58 131.60,356.95Q133.20,357.33 134.97,357.71Q136.75,358.10 136.58,358.80Z" fill="#eccac6" filter="url(#tt)"/><path d="M140.58,369.48Q141.11,371.30 140.49,373.09Q139.87,374.88 138.28,376.12Q136.68,377.37 134.96,378.84Q133.24,380.32 130.94,379.46Q128.64,378.61 126.39,378.28Q124.15,377.95 122.24,376.65Q120.34,375.34 120.80,373.32Q121.26,371.30 121.19,369.43Q121.12,367.56 122.54,366.02Q123.97,364.47 126.30,364.20Q128.62,363.93 130.79,363.59Q132.97,363.25 135.27,363.79Q137.57,364.33 138.81,365.99Q140.05,367.65 140.58,369.48Z" fill="#a01c2c" filter="url(#tt)"/><path d="M135.71,383.92Q136.41,384.50 135.98,385.14Q135.56,385.78 134.74,386.33Q133.93,386.89 132.54,387.05Q131.14,387.22 129.69,387.43Q128.24,387.64 126.84,387.34Q125.43,387.03 124.58,386.44Q123.73,385.85 123.78,385.17Q123.83,384.50 123.87,383.85Q123.91,383.19 124.91,382.72Q125.91,382.25 127.18,382.00Q128.44,381.75 129.92,381.50Q131.40,381.26 132.87,381.57Q134.34,381.87 134.68,382.61Q135.02,383.34 135.71,383.92Z" fill="#ecc8c4" filter="url(#tt)"/><path d="M138.99,394.03Q139.09,395.80 138.73,397.47Q138.37,399.14 137.28,400.75Q136.19,402.35 133.96,402.75Q131.72,403.15 129.59,403.19Q127.46,403.22 125.47,402.54Q123.49,401.87 122.55,400.36Q121.61,398.85 120.79,397.32Q119.97,395.80 120.33,394.10Q120.68,392.40 121.94,390.92Q123.19,389.44 125.43,389.28Q127.67,389.11 129.65,388.93Q131.64,388.74 133.32,389.59Q135.00,390.44 136.94,391.35Q138.89,392.26 138.99,394.03Z" fill="#dc9a98" filter="url(#tt)"/><path d="M135.00,414.23Q135.27,415.30 135.12,416.43Q134.98,417.55 134.26,418.46Q133.54,419.37 132.43,419.56Q131.32,419.76 130.32,419.68Q129.32,419.60 128.30,419.35Q127.28,419.09 126.66,418.22Q126.04,417.35 125.48,416.33Q124.93,415.30 125.26,414.17Q125.59,413.03 126.35,412.16Q127.11,411.30 128.14,410.83Q129.17,410.36 130.31,410.30Q131.46,410.24 132.30,410.98Q133.15,411.72 133.95,412.44Q134.74,413.16 135.00,414.23Z" fill="#d27478" filter="url(#tt)"/><path d="M138.97,432.41Q139.21,433.90 139.20,435.49Q139.20,437.07 137.97,438.34Q136.73,439.61 134.99,440.46Q133.25,441.30 131.35,440.75Q129.45,440.21 127.85,439.61Q126.24,439.02 125.22,437.85Q124.19,436.68 123.73,435.29Q123.26,433.90 123.19,432.30Q123.11,430.69 124.74,429.80Q126.37,428.91 127.83,427.97Q129.29,427.02 131.13,427.28Q132.96,427.54 134.60,428.12Q136.24,428.70 137.49,429.80Q138.73,430.91 138.97,432.41Z" fill="#e2a49e" filter="url(#tt)"/><path d="M134.17,453.09Q134.33,454.20 134.43,455.45Q134.52,456.70 133.78,457.68Q133.03,458.66 132.03,459.39Q131.03,460.13 129.89,459.70Q128.75,459.27 127.81,458.76Q126.87,458.25 125.95,457.48Q125.04,456.72 124.83,455.46Q124.61,454.20 125.06,453.06Q125.51,451.93 126.03,450.82Q126.54,449.71 127.63,449.34Q128.71,448.97 129.85,448.73Q130.99,448.48 131.81,449.39Q132.63,450.29 133.32,451.13Q134.01,451.97 134.17,453.09Z" fill="#e0a09e" filter="url(#tt)"/><path d="M135.10,470.48Q135.87,471.20 134.92,471.87Q133.97,472.54 133.56,473.32Q133.15,474.09 131.79,474.21Q130.43,474.33 129.07,474.67Q127.71,475.01 126.80,474.31Q125.89,473.62 124.60,473.24Q123.30,472.86 123.12,472.03Q122.94,471.20 123.13,470.38Q123.33,469.55 124.17,468.84Q125.01,468.14 126.48,468.07Q127.95,468.00 129.22,467.96Q130.48,467.92 131.81,468.12Q133.13,468.33 133.72,469.04Q134.32,469.76 135.10,470.48Z" fill="#e2aaa2" filter="url(#tt)"/><path d="M135.89,482.86Q136.27,483.90 136.02,484.98Q135.78,486.06 134.78,486.90Q133.78,487.73 132.41,488.22Q131.04,488.71 129.51,488.69Q127.98,488.67 126.47,488.31Q124.97,487.96 124.26,486.95Q123.56,485.94 122.92,484.92Q122.27,483.90 123.10,482.94Q123.93,481.99 124.64,481.08Q125.34,480.18 126.67,479.70Q128.00,479.22 129.46,479.33Q130.92,479.44 132.52,479.60Q134.12,479.76 134.82,480.80Q135.52,481.83 135.89,482.86Z" fill="#e4ac9e" filter="url(#tt)"/><path d="M137.91,368.24Q138.36,369.50 138.45,370.97Q138.54,372.45 137.34,373.60Q136.15,374.75 134.46,375.28Q132.77,375.81 131.06,375.61Q129.34,375.41 127.50,375.17Q125.66,374.94 124.46,373.73Q123.26,372.53 123.12,371.01Q122.98,369.50 123.38,368.09Q123.78,366.68 125.06,365.71Q126.33,364.74 127.88,364.33Q129.43,363.92 131.08,363.64Q132.73,363.36 134.41,363.84Q136.09,364.31 136.78,365.64Q137.46,366.97 137.91,368.24Z" fill="#4a0812"/><ellipse cx="126" cy="371" rx="2.2" ry="1" fill="#c08088"/><path d="M134.82,347.74Q135.18,348.60 134.29,349.31Q133.40,350.03 132.56,350.56Q131.72,351.09 130.78,351.81Q129.84,352.53 128.43,352.19Q127.02,351.84 125.91,351.50Q124.79,351.16 123.65,350.69Q122.51,350.22 122.42,349.41Q122.33,348.60 122.26,347.75Q122.19,346.89 123.44,346.43Q124.68,345.97 125.73,345.33Q126.77,344.70 128.19,344.97Q129.62,345.24 130.94,345.48Q132.26,345.72 133.36,346.30Q134.47,346.88 134.82,347.74Z" fill="#d85868"/><ellipse cx="130" cy="391.5" rx="2" ry="1.4" fill="#c03040"/><path d="M77,500 H146.5" stroke="#3a4a9a" stroke-width="1"/><path d="M83.8,497.5 V502.5" stroke="#3a4a9a" stroke-width="0.8"/><text x="83.8" y="509" font-size="4.6" text-anchor="middle" font-family="Liberation Sans" fill="#34449a">19</text><path d="M89.8,498.8 V501.2" stroke="#3a4a9a" stroke-width="0.6"/><path d="M95.8,497.5 V502.5" stroke="#3a4a9a" stroke-width="0.8"/><text x="95.8" y="509" font-size="4.6" text-anchor="middle" font-family="Liberation Sans" fill="#34449a">20</text><path d="M101.8,498.8 V501.2" stroke="#3a4a9a" stroke-width="0.6"/><path d="M107.7,497.5 V502.5" stroke="#3a4a9a" stroke-width="0.8"/><text x="107.7" y="509" font-size="4.6" text-anchor="middle" font-family="Liberation Sans" fill="#34449a">21</text><path d="M113.7,498.8 V501.2" stroke="#3a4a9a" stroke-width="0.6"/><path d="M119.6,497.5 V502.5" stroke="#3a4a9a" stroke-width="0.8"/><text x="119.6" y="509" font-size="4.6" text-anchor="middle" font-family="Liberation Sans" fill="#34449a">22</text><path d="M125.6,498.8 V501.2" stroke="#3a4a9a" stroke-width="0.6"/><path d="M131.5,497.5 V502.5" stroke="#3a4a9a" stroke-width="0.8"/><text x="131.5" y="509" font-size="4.6" text-anchor="middle" font-family="Liberation Sans" fill="#34449a">23</text><path d="M137.5,498.8 V501.2" stroke="#3a4a9a" stroke-width="0.6"/><path d="M142.9,497.5 V502.5" stroke="#3a4a9a" stroke-width="0.8"/><text x="142.9" y="509" font-size="4.6" text-anchor="middle" font-family="Liberation Sans" fill="#34449a">24</text><text transform="translate(76.00,535.90) rotate(-41.5)" text-anchor="middle" font-size="12.8" font-family="Liberation Sans" fill="#111"><tspan x="0" y="0">PyMT</tspan><tspan x="0.5" y="14.3">PCBP1+/+</tspan></text><text transform="translate(123.00,535.90) rotate(-41.5)" text-anchor="middle" font-size="12.8" font-family="Liberation Sans" fill="#111"><tspan x="0" y="0">PyMT</tspan><tspan x="0.5" y="14.3">PCBP1–/–</tspan></text>
<text x="209.1" y="303.8" font-size="27.5" font-family="Liberation Sans">E</text>
<g stroke="#111" stroke-width="1.5" fill="none">
<path d="M261,306.5 V539.3 H416"/>
<path d="M255.6,524.4 H261"/>
<path d="M255.6,508.9 H261"/>
<path d="M255.6,493.3 H261"/>
<path d="M255.6,477.8 H261"/>
<path d="M255.6,462.3 H261"/>
<path d="M255.6,446.8 H261"/>
<path d="M255.6,431.3 H261"/>
<path d="M255.6,415.7 H261"/>
<path d="M255.6,400.2 H261"/>
<path d="M255.6,384.7 H261"/>
<path d="M255.6,369.2 H261"/>
<path d="M255.6,353.7 H261"/>
<path d="M255.6,338.1 H261"/>
<path d="M255.6,322.6 H261"/>
<path d="M255.6,307.1 H261"/>
</g>
<g font-size="12.2" font-weight="bold" font-family="Liberation Sans" fill="#111" text-anchor="end">
<text x="254" y="466.7">5</text>
<text x="254" y="389.1">10</text>
<text x="254" y="311.5">15</text>
</g>
<text transform="translate(230.2,420.1) rotate(-90)" text-anchor="middle" font-size="12.4" font-family="Liberation Sans" fill="#111">Number of tumors per mouse</text>
<g stroke="#111" stroke-width="1.3" fill="none">
<path d="M291.8,348.6 V343.4 H385.1 V348.6"/>
<path d="M291.8,367 V363.2 H338.6 V367"/>
</g>
<path d="M328.25,332.00L328.25,338.60M325.39,333.65L331.11,336.95M325.39,336.95L331.11,333.65M335.15,332.00L335.15,338.60M332.29,333.65L338.01,336.95M332.29,336.95L338.01,333.65M342.05,332.00L342.05,338.60M339.19,333.65L344.91,336.95M339.19,336.95L344.91,333.65M348.95,332.00L348.95,338.60M346.09,333.65L351.81,336.95M346.09,336.95L351.81,333.65" stroke="#111" stroke-width="1.75" fill="none"/>
<path d="M308.30,352.70L308.30,359.30M305.44,354.35L311.16,357.65M305.44,357.65L311.16,354.35M315.20,352.70L315.20,359.30M312.34,354.35L318.06,357.65M312.34,357.65L318.06,354.35M322.10,352.70L322.10,359.30M319.24,354.35L324.96,357.65M319.24,357.65L324.96,354.35" stroke="#111" stroke-width="1.75" fill="none"/>
<g fill="#fff" stroke="#111" stroke-width="1.25"><circle cx="279.52" cy="462.30" r="2.75"/><circle cx="287.97" cy="462.30" r="2.75"/><circle cx="296.43" cy="462.30" r="2.75"/><circle cx="304.88" cy="462.30" r="2.75"/><circle cx="279.52" cy="477.82" r="2.75"/><circle cx="287.97" cy="477.82" r="2.75"/><circle cx="296.43" cy="477.82" r="2.75"/><circle cx="304.88" cy="477.82" r="2.75"/><circle cx="287.97" cy="493.34" r="2.75"/><circle cx="296.43" cy="493.34" r="2.75"/><circle cx="283.75" cy="508.86" r="2.75"/><circle cx="292.20" cy="508.86" r="2.75"/><circle cx="300.65" cy="508.86" r="2.75"/></g>
<path d="M277,477.8 H307" stroke="#111" stroke-width="1.3"/>
<g fill="#8e8ca6" stroke="#111" stroke-width="1.25"><circle cx="338.60" cy="384.70" r="2.75"/><circle cx="326.00" cy="400.22" r="2.75"/><circle cx="338.60" cy="400.22" r="2.75"/><circle cx="351.20" cy="400.22" r="2.75"/><circle cx="326.00" cy="431.26" r="2.75"/><circle cx="338.60" cy="431.26" r="2.75"/><circle cx="351.20" cy="431.26" r="2.75"/><circle cx="332.30" cy="462.30" r="2.75"/><circle cx="344.90" cy="462.30" r="2.75"/><circle cx="332.30" cy="477.82" r="2.75"/><circle cx="344.90" cy="477.82" r="2.75"/><circle cx="338.60" cy="493.34" r="2.75"/></g>
<path d="M323.3,437.9 H353.6" stroke="#555" stroke-width="1.5"/>
<path d="M370,418 H400" stroke="#555" stroke-width="1.4"/>
<g fill="#d6d6f6" stroke="#111" stroke-width="1.25"><circle cx="385.00" cy="369.18" r="2.75"/><circle cx="382.43" cy="384.70" r="2.75"/><circle cx="387.57" cy="384.70" r="2.75"/><circle cx="372.12" cy="400.22" r="2.75"/><circle cx="377.27" cy="400.22" r="2.75"/><circle cx="382.43" cy="400.22" r="2.75"/><circle cx="387.57" cy="400.22" r="2.75"/><circle cx="392.73" cy="400.22" r="2.75"/><circle cx="397.88" cy="400.22" r="2.75"/><circle cx="372.12" cy="415.74" r="2.75"/><circle cx="377.27" cy="415.74" r="2.75"/><circle cx="382.43" cy="415.74" r="2.75"/><circle cx="387.57" cy="415.74" r="2.75"/><circle cx="392.73" cy="415.74" r="2.75"/><circle cx="397.88" cy="415.74" r="2.75"/><circle cx="385.00" cy="431.26" r="2.75"/><circle cx="382.43" cy="446.78" r="2.75"/><circle cx="387.57" cy="446.78" r="2.75"/><circle cx="382.43" cy="462.30" r="2.75"/><circle cx="387.57" cy="462.30" r="2.75"/><circle cx="385.00" cy="493.34" r="2.75"/></g>
<text transform="translate(275.70,560.30) rotate(-41.5)" text-anchor="middle" font-size="12.8" font-family="Liberation Sans" fill="#111"><tspan x="0" y="0">PyMT</tspan><tspan x="0.5" y="14.3">PCBP1+/+</tspan></text>
<text transform="translate(326.00,560.30) rotate(-41.5)" text-anchor="middle" font-size="12.8" font-family="Liberation Sans" fill="#111"><tspan x="0" y="0">PyMT</tspan><tspan x="0.5" y="14.3">PCBP1+/–</tspan></text>
<text transform="translate(376.00,560.30) rotate(-41.5)" text-anchor="middle" font-size="12.8" font-family="Liberation Sans" fill="#111"><tspan x="0" y="0">PyMT</tspan><tspan x="0.5" y="14.3">PCBP1–/–</tspan></text>
<text x="455.1" y="303.8" font-size="27.5" font-family="Liberation Sans">F</text>
<g stroke="#111" stroke-width="1.5" fill="none">
<path d="M504.2,303 V540 H661"/>
<path d="M498,500.8 H504.2"/>
<path d="M498,461.4 H504.2"/>
<path d="M498,421.9 H504.2"/>
<path d="M498,382.5 H504.2"/>
<path d="M498,343.0 H504.2"/>
<path d="M498,303.6 H504.2"/>
</g>
<g font-size="12.2" font-weight="bold" font-family="Liberation Sans" fill="#111" text-anchor="end">
<text x="497.0" y="505.2">1</text>
<text x="497.0" y="465.8">2</text>
<text x="497.0" y="426.3">3</text>
<text x="497.0" y="386.9">4</text>
<text x="497.0" y="347.4">5</text>
<text x="497.0" y="308.0">6</text>
</g>
<text transform="translate(477.5,419) rotate(-90)" text-anchor="middle" font-size="12.4" font-family="Liberation Sans" fill="#111">Sum tumor weight (g)</text>
<g stroke="#111" stroke-width="1.3" fill="none">
<path d="M534.7,310.5 V303.8 H629.7 V310.5"/>
<path d="M581.5,336 V328.8 H629.7 V336"/>
<path d="M534.7,361.8 V354.6 H582.5 V361.8"/>
</g>
<path d="M572.15,292.40L572.15,299.00M569.29,294.05L575.01,297.35M569.29,297.35L575.01,294.05M579.05,292.40L579.05,299.00M576.19,294.05L581.91,297.35M576.19,297.35L581.91,294.05M585.95,292.40L585.95,299.00M583.09,294.05L588.81,297.35M583.09,297.35L588.81,294.05M592.85,292.40L592.85,299.00M589.99,294.05L595.71,297.35M589.99,297.35L595.71,294.05" stroke="#111" stroke-width="1.75" fill="none"/>
<path d="M598.30,318.00L598.30,324.60M595.44,319.65L601.16,322.95M595.44,322.95L601.16,319.65M605.20,318.00L605.20,324.60M602.34,319.65L608.06,322.95M602.34,322.95L608.06,319.65M612.10,318.00L612.10,324.60M609.24,319.65L614.96,322.95M609.24,322.95L614.96,319.65" stroke="#111" stroke-width="1.75" fill="none"/>
<path d="M555.55,343.20L555.55,349.80M552.69,344.85L558.41,348.15M552.69,348.15L558.41,344.85M562.45,343.20L562.45,349.80M559.59,344.85L565.31,348.15M559.59,348.15L565.31,344.85" stroke="#111" stroke-width="1.75" fill="none"/>
<g stroke="#111" stroke-width="1.3" fill="none">
<path d="M519.6,524.6 H550.9 M527,519.4 H543.2 M535.2,519.4 V528.4 M527,528.4 H543.2"/>
<path d="M566.9,494.2 H597.9 M574.3,486.4 H590.8 M582.3,486.4 V501.8 M574.3,501.8 H590.8"/>
<path d="M614.1,442.1 H645.1 M621.5,433.8 H637.8 M629.7,433.8 V450.3 M621.5,450.3 H637.8"/>
</g>
<g fill="#fff" stroke="#111" stroke-width="1.15"><circle cx="521.7" cy="495.4" r="2.25"/><circle cx="530.6" cy="499.8" r="2.25"/><circle cx="539.6" cy="497.6" r="2.25"/><circle cx="521.7" cy="524.6" r="2.25"/><circle cx="548.4" cy="524.6" r="2.25"/><circle cx="530.6" cy="528.8" r="2.25"/><circle cx="539.6" cy="527.1" r="2.25"/><circle cx="521.7" cy="533.6" r="2.25"/><circle cx="530.6" cy="535.6" r="2.25"/><circle cx="539.6" cy="532.8" r="2.25"/><circle cx="521.7" cy="537.8" r="2.25"/><circle cx="539.6" cy="537.5" r="2.25"/><circle cx="548.4" cy="537.5" r="2.25"/></g>
<g fill="#8e8ca6" stroke="#111" stroke-width="1.15"><circle cx="582.3" cy="440.7" r="2.25"/><circle cx="582.3" cy="467.4" r="2.25"/><circle cx="591.5" cy="466.2" r="2.25"/><circle cx="582.3" cy="481.3" r="2.25"/><circle cx="577.8" cy="492.7" r="2.25"/><circle cx="586.9" cy="491.3" r="2.25"/><circle cx="582.3" cy="498" r="2.25"/><circle cx="577.8" cy="509.2" r="2.25"/><circle cx="586.9" cy="509.5" r="2.25"/><circle cx="573.2" cy="525.5" r="2.25"/><circle cx="582.3" cy="523.7" r="2.25"/><circle cx="591.6" cy="524.9" r="2.25"/></g>
<g fill="#d6d6f6" stroke="#111" stroke-width="1.15"><circle cx="629.7" cy="346.1" r="2.25"/><circle cx="629.7" cy="385.8" r="2.25"/><circle cx="629.7" cy="395.5" r="2.25"/><circle cx="622.8" cy="409.6" r="2.25"/><circle cx="629.7" cy="413.8" r="2.25"/><circle cx="636.6" cy="421.7" r="2.25"/><circle cx="629.7" cy="425.7" r="2.25"/><circle cx="629.7" cy="433.2" r="2.25"/><circle cx="629.7" cy="441.8" r="2.25"/><circle cx="629.7" cy="447.1" r="2.25"/><circle cx="622.8" cy="448.4" r="2.25"/><circle cx="636.6" cy="451.7" r="2.25"/><circle cx="629.7" cy="452.8" r="2.25"/><circle cx="622.8" cy="453.9" r="2.25"/><circle cx="629.7" cy="462.6" r="2.25"/><circle cx="616.3" cy="479.4" r="2.25"/><circle cx="622.8" cy="477.9" r="2.25"/><circle cx="629.7" cy="481.8" r="2.25"/><circle cx="636.6" cy="478.3" r="2.25"/><circle cx="643.2" cy="481.4" r="2.25"/><circle cx="629.7" cy="495.2" r="2.25"/></g>
<text transform="translate(530.70,559.70) rotate(-41.5)" text-anchor="middle" font-size="12.8" font-family="Liberation Sans" fill="#111"><tspan x="0" y="0">PyMT</tspan><tspan x="0.5" y="14.3">PCBP1+/+</tspan></text>
<text transform="translate(576.30,559.70) rotate(-41.5)" text-anchor="middle" font-size="12.8" font-family="Liberation Sans" fill="#111"><tspan x="0" y="0">PyMT</tspan><tspan x="0.5" y="14.3">PCBP1+/–</tspan></text>
<text transform="translate(622.30,559.70) rotate(-41.5)" text-anchor="middle" font-size="12.8" font-family="Liberation Sans" fill="#111"><tspan x="0" y="0">PyMT</tspan><tspan x="0.5" y="14.3">PCBP1–/–</tspan></text>
</svg>
</body></html>
